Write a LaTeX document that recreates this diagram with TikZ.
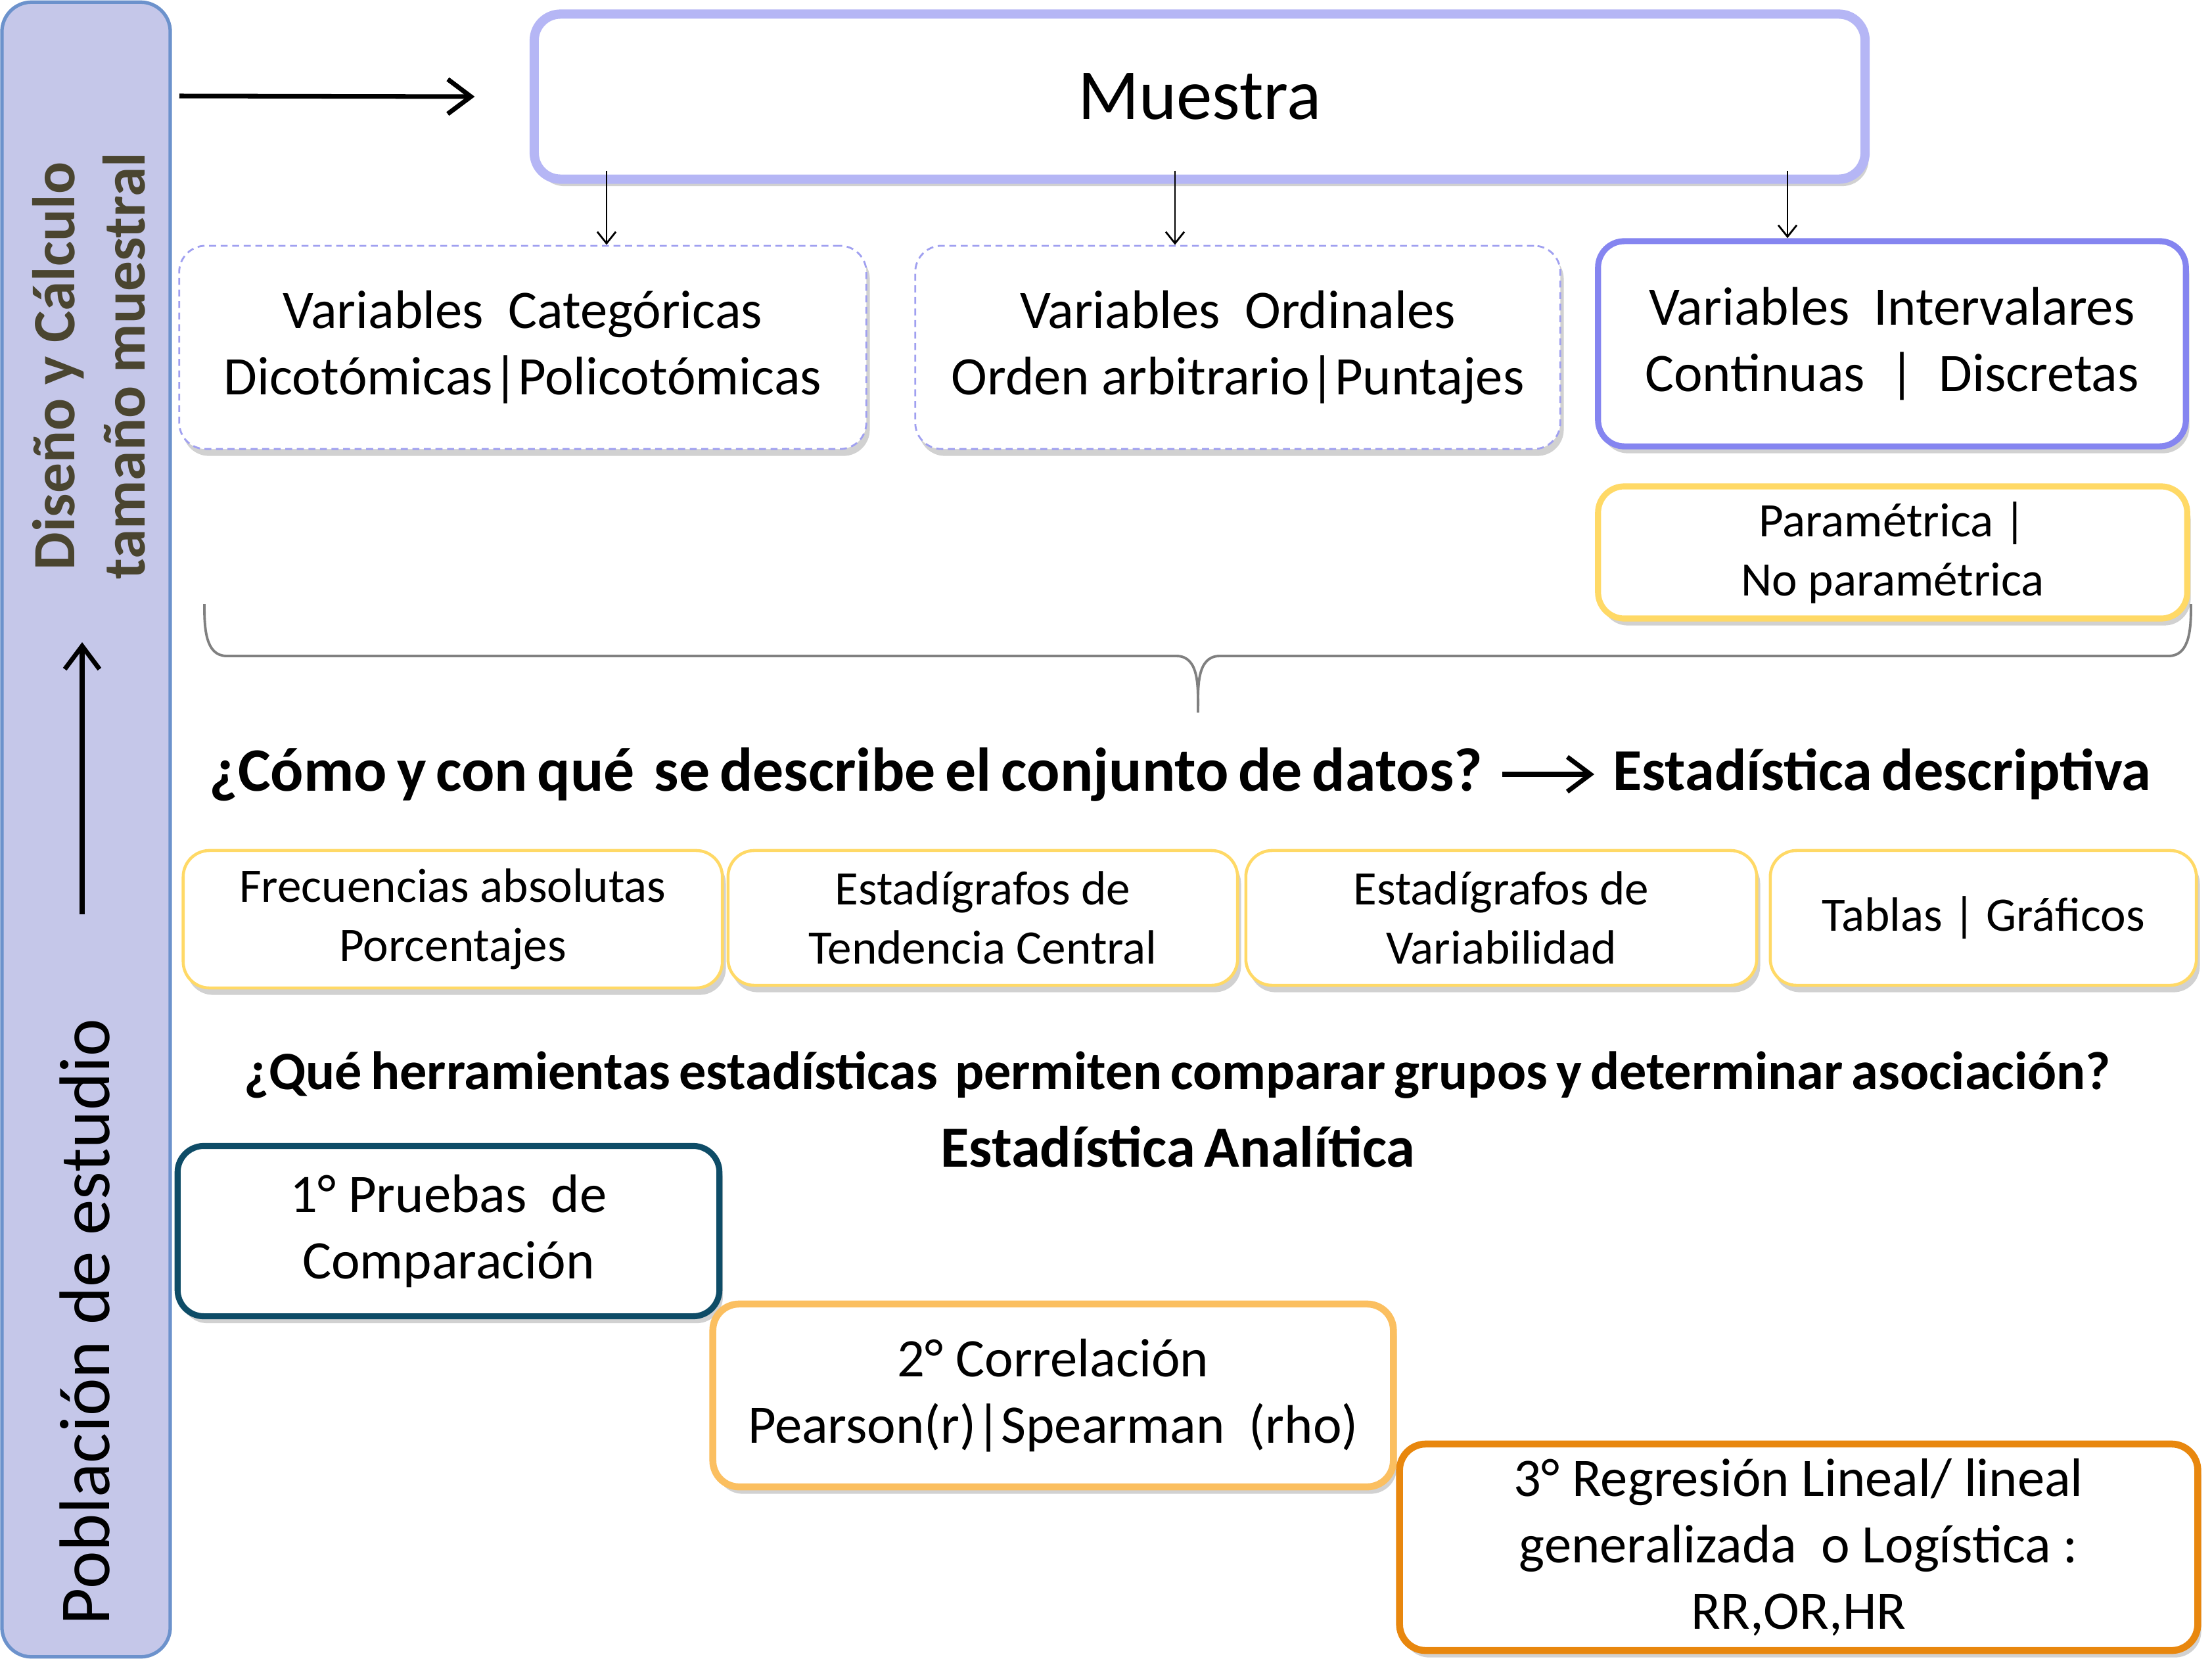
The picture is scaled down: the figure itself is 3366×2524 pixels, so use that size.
\documentclass[tikz,border=0pt]{standalone}
\usepackage{fontspec}
\setmainfont{Carlito}
\newfontfamily\qfont[WordSpace=0.7]{Carlito}
\usetikzlibrary{arrows.meta,shadows}
\definecolor{barfill}{HTML}{C5C7E9}
\definecolor{bardraw}{HTML}{6C92CC}
\definecolor{dctext}{HTML}{4A4530}
\definecolor{muestraC}{HTML}{B5B6F5}
\definecolor{catC}{HTML}{A0A0F0}
\definecolor{intC}{HTML}{8585F0}
\definecolor{paramC}{HTML}{FFD966}
\definecolor{freqC}{HTML}{FFD966}
\definecolor{boxAC}{HTML}{0E4C67}
\definecolor{boxBC}{HTML}{FBBF60}
\definecolor{boxCC}{HTML}{E8870E}
\definecolor{braceC}{HTML}{808080}
\newcommand\fsBox{\fontsize{23.5pt}{28.7pt}\selectfont}
\newcommand\fsSmall{\fontsize{20.8pt}{25.6pt}\selectfont}
\begin{document}
\begin{tikzpicture}[x=0.01cm,y=-0.01cm,
  shd/.style={drop shadow={shadow xshift=1.5pt,shadow yshift=-3pt,opacity=0.3,fill=black!60}},
  box/.style={rounded corners=0.4cm,draw,fill=white,align=center,inner sep=0pt,shd},
  dashbox/.style={box,dash pattern=on 3pt off 2pt},
  thinarrow/.style={-{Straight Barb[length=5pt,width=8pt]},line width=0.8pt},
  thickarrow/.style={-{Straight Barb[length=10pt,width=15pt,line width=2pt]},line width=2pt}]
\useasboundingbox (0,0) rectangle (3366,2524);
% left bar
\node[draw=bardraw,fill=barfill,line width=1.5pt,rounded corners=0.45cm,minimum width=2.56cm,minimum height=25.16cm,inner sep=0pt] (bar) at (131,1262) {};
\node[rotate=90,align=center,text=dctext,font=\fontsize{26pt}{30.4pt}\selectfont\bfseries] (dc) at (135,557) {Diseño y Cálculo\\tamaño muestral};
\node[rotate=90,font=\fontsize{31pt}{36pt}\selectfont] (pe) at (129,2011) {Población de estudio};
\coordinate (ua1) at (125,1391);
\coordinate (ua2) at (125,977);
\draw[thickarrow] (ua1) -- (ua2);
% Muestra
\node[box,draw=muestraC,line width=4pt,minimum width=20.24cm,minimum height=2.51cm,font=\fontsize{31pt}{36pt}\selectfont] (muestra) at (1825.5,147) {Muestra};
\coordinate (ra) at (273,146);
\draw[thickarrow] (ra) -- ([shift={(-83.5,0)}]muestra.west);
% variable boxes
\node[dashbox,draw=catC,line width=0.8pt,minimum width=10.45cm,minimum height=3.09cm,font=\fsBox] (cat) at (795.5,528.5) {Variables~~Categóricas\\Dicotómicas|Policotómicas};
\node[dashbox,draw=catC,line width=0.8pt,minimum width=9.81cm,minimum height=3.09cm,font=\fsBox] (ord) at (1883.5,528.5) {Variables~~Ordinales\\Orden arbitrario|Puntajes};
\node[box,draw=intC,line width=2.6pt,minimum width=8.94cm,minimum height=3.12cm,font=\fsBox] (int) at (2879,523) {Variables~~Intervalares\\Continuas~~|~~Discretas};
\node[box,draw=paramC,line width=2.6pt,minimum width=8.96cm,minimum height=2.01cm,font=\fsSmall] (param) at (2880,840.5) {Paramétrica |\\No paramétrica};
\draw[thinarrow] ([shift={(-902.5,-20)}]muestra.south) -- ([shift={(127.5,0)}]cat.north);
\draw[thinarrow] ([shift={(-37.5,-20)}]muestra.south) -- ([shift={(-95.5,0)}]ord.north);
\draw[thinarrow] ([shift={(894.5,-20)}]muestra.south) -- ([shift={(-159,0)}]int.north);
% brace
\draw[braceC,line width=1.1pt] (311,919) to[out=-90,in=180] (345,998) -- (1790,998) to[out=0,in=90] (1823,1084);
\draw[braceC,line width=1.1pt] (1823,1084) to[out=90,in=180] (1856,998) -- (3300,998) to[out=0,in=-90] (3334,919);
% question 1
\node[anchor=west,inner sep=0pt,font=\fontsize{26.7pt}{30pt}\qfont\bfseries] (q1) at (318,1178) {¿Cómo y con qué~~se describe el conjunto de datos?};
\node[anchor=west,inner sep=0pt,font=\fontsize{25.7pt}{30pt}\qfont\bfseries] (ed) at (2454,1178) {Estadística descriptiva};
\draw[thickarrow] ([shift={(-168,0)}]ed.west) -- ([shift={(-28,0)}]ed.west);
% descriptive boxes
\node[box,draw=freqC,line width=1.3pt,minimum width=8.2cm,minimum height=2.09cm,font=\fsSmall] (freq) at (689,1398.5) {Frecuencias absolutas\\Porcentajes};
\node[box,draw=freqC,line width=1.3pt,minimum width=7.75cm,minimum height=2.05cm,font=\fsSmall] (tc) at (1495.5,1396.5) {Estadígrafos de\\Tendencia Central};
\node[box,draw=freqC,line width=1.3pt,minimum width=7.77cm,minimum height=2.05cm,font=\fsSmall] (var) at (2284.5,1396.5) {Estadígrafos de\\Variabilidad};
\node[box,draw=freqC,line width=1.3pt,minimum width=6.48cm,minimum height=2.05cm,font=\fsSmall] (tab) at (3018,1396.5) {Tablas | Gráficos};
% question 2
\node[inner sep=0pt,font=\fontsize{23.4pt}{28pt}\qfont\bfseries] (q2) at (1791.5,1636) {¿Qué herramientas estadísticas~~permiten comparar grupos y determinar asociación?};
\node[inner sep=0pt,font=\fontsize{25.2pt}{30pt}\qfont\bfseries] (ea) at (1792.5,1745) {Estadística Analítica};
% analytic boxes
\node[box,draw=boxAC,line width=2.6pt,minimum width=8.24cm,minimum height=2.59cm,font=\fsBox] (b1) at (682.5,1873) {1° Pruebas~~de\\Comparación};
\node[box,draw=boxBC,line width=3pt,minimum width=10.35cm,minimum height=2.78cm,font=\fsBox] (b2) at (1602.5,2123) {2° Correlación\\Pearson(r)|Spearman~~(rho)};
\node[box,draw=boxCC,line width=3pt,minimum width=12.14cm,minimum height=3.14cm,font=\fsBox] (b3) at (2737,2354) {3° Regresión Lineal/ lineal\\generalizada~~o Logística :\\RR,OR,HR};
\end{tikzpicture}
\end{document}
